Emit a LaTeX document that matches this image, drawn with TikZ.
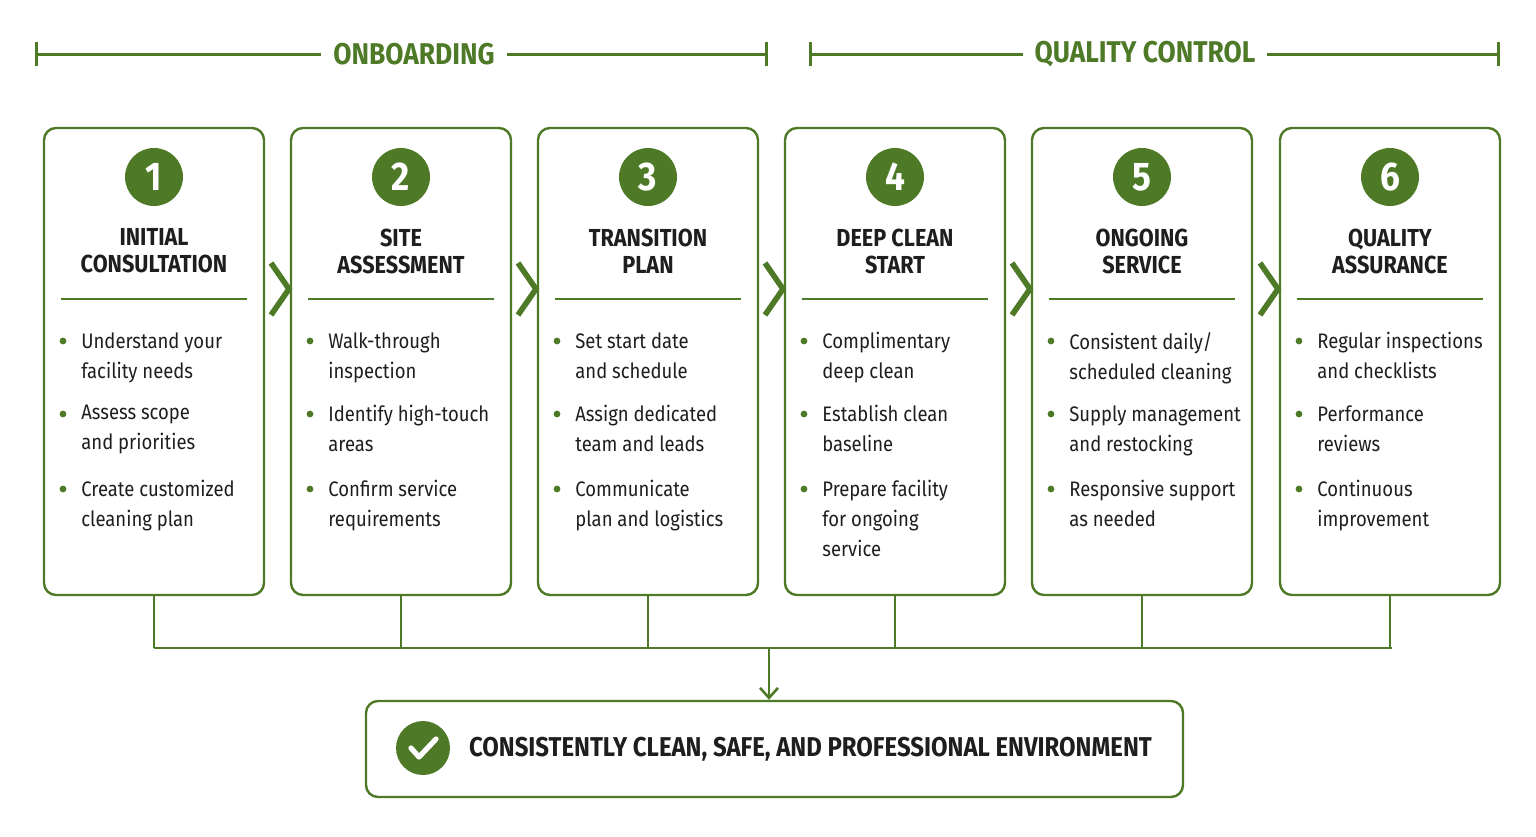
\documentclass[tikz,border=0pt]{standalone}
\usepackage{fontspec}
\setmainfont{Fira Sans}[FakeStretch=0.88]
\usetikzlibrary{arrows.meta}
\definecolor{leaf}{HTML}{4E7A27}
\definecolor{ink}{HTML}{1E1E1E}
\tikzset{
    card/.style={draw=leaf, line width=1.2pt, rounded corners=6pt, minimum width=110pt, minimum height=233.5pt},
    badge/.style={circle, fill=leaf, minimum size=29pt, inner sep=0pt, text=white, font=\fontsize{20}{20}\selectfont\bfseries},
    title/.style={align=center, text=ink, font=\fontsize{12.3}{13.5}\selectfont\bfseries},
    item/.style={anchor=north west, align=left, text=ink, inner sep=0pt, font=\fontsize{10.5}{15}\selectfont},
    link/.style={draw=leaf, line width=1.3pt},
    chev/.style={draw=leaf, line width=2.8pt},
    phase/.style={text=leaf, font=\fontsize{15}{15}\selectfont\bfseries, fill=white, inner xsep=6pt}
}
\newcommand{\bulletdot}[2]{\fill[leaf] (#1,#2) circle (1.7pt);}
\begin{document}
\begin{tikzpicture}[x=0.5pt, y=-0.5pt]
    \useasboundingbox (0,0) rectangle (1536,836);
    % phase brackets
    \coordinate (ob1) at (36,54); \coordinate (ob2) at (766,54);
    \coordinate (qc1) at (810,54); \coordinate (qc2) at (1498,54);
    \draw[link, line width=1.5pt] (ob1) -- (ob2);
    \draw[link, line width=1.5pt] (qc1) -- (qc2);
    \foreach \p in {ob1, ob2, qc1, qc2} {
        \draw[link, line width=1.5pt] ([yshift=6pt]\p) -- ([yshift=-6pt]\p);
    }
    \node[phase] (onb) at (414,54) {ONBOARDING};
    \node[phase] (qual) at (1145,54) {QUALITY CONTROL};
    % cards
    \foreach \n/\cx/\ttl in {1/154/{INITIAL\\CONSULTATION}, 2/401/{SITE\\ASSESSMENT},
            3/648/{TRANSITION\\PLAN}, 4/895/{DEEP CLEAN\\START},
            5/1142/{ONGOING\\SERVICE}, 6/1390/{QUALITY\\ASSURANCE}} {
        \node[card] (c\n) at (\cx,361.5) {};
        \node[badge] (b\n) at (\cx,177) {\n};
        \node[title] (t\n) at (\cx,251) {\ttl};
        \draw[link] (\cx-93,299) -- (\cx+93,299);
    }
    \foreach \mx in {280, 527, 774, 1021, 1269} {
        \draw[chev] (\mx-9,263) -- (\mx+9,289) -- (\mx-9,315);
    }
    % bullets
    \foreach \cx/\ia/\ib/\ic in {
        154/{Understand your\\facility needs}/{Assess scope\\and priorities}/{Create customized\\cleaning plan},
        401/{Walk-through\\inspection}/{Identify high-touch\\areas}/{Confirm service\\requirements},
        648/{Set start date\\and schedule}/{Assign dedicated\\team and leads}/{Communicate\\plan and logistics},
        895/{Complimentary\\deep clean}/{Establish clean\\baseline}/{Prepare facility\\for ongoing\\service},
        1142/{Consistent daily/\\scheduled cleaning}/{Supply management\\and restocking}/{Responsive support\\as needed},
        1390/{Regular inspections\\and checklists}/{Performance\\reviews}/{Continuous\\improvement}} {
        \bulletdot{\cx-91}{341} \node[item] at (\cx-73,332) {\ia};
        \bulletdot{\cx-91}{414} \node[item] at (\cx-73,405) {\ib};
        \bulletdot{\cx-91}{489} \node[item] at (\cx-73,480) {\ic};
    }
    % merge to outcome
    \node[card, minimum width=408.5pt, minimum height=48pt] (goal) at (774.5,749) {};
    \node[badge, minimum size=27pt] (tick) at (423,748) {};
    \draw[white, line width=2.6pt, line cap=round, line join=round]
        ([shift={(-6pt,0pt)}]tick.center) -- ++(4pt,-4.5pt) -- ++(8.5pt,9pt);
    \node[anchor=west, text=ink, font=\fontsize{13.6}{13.6}\selectfont\bfseries] (goaltxt) at (462,749)
        {CONSISTENTLY CLEAN, SAFE, AND PROFESSIONAL ENVIRONMENT};
    \coordinate (bus1) at (154,648); \coordinate (bus6) at (1392,648);
    \coordinate (drop) at (769,648);
    \draw[link] (bus1) -- (bus6);
    \foreach \n in {1,...,6} { \draw[link] (c\n.south) -- (c\n.south |- bus1); }
    \draw[link, -{Straight Barb[length=5pt, width=9pt]}] (drop) -- (goal.north -| drop);
\end{tikzpicture}
\end{document}
